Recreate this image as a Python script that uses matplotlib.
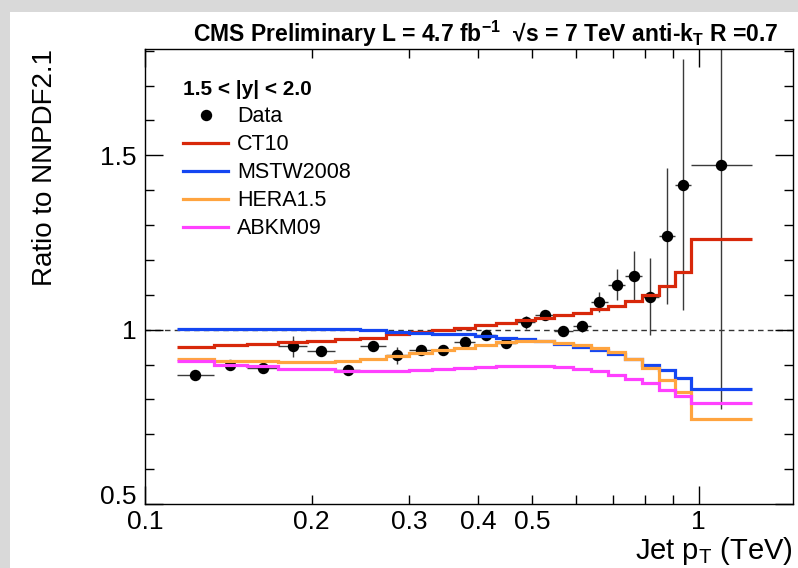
import matplotlib
matplotlib.use("Agg")
import matplotlib.pyplot as plt
import numpy as np
from matplotlib.lines import Line2D
from matplotlib.patches import Rectangle

plt.rcParams['font.family'] = ['Liberation Sans', 'DejaVu Sans']
plt.rcParams['mathtext.default'] = 'regular'

# ---- data (pT in TeV) ----
bin_edges = [0.114, 0.133, 0.153, 0.174, 0.196, 0.220, 0.245, 0.272, 0.300, 0.330,
             0.362, 0.395, 0.430, 0.468, 0.507, 0.548, 0.592, 0.638, 0.686, 0.737,
             0.790, 0.846, 0.905, 0.967, 1.248]

data_ratio = [0.869, 0.898, 0.890, 0.952, 0.940, 0.883, 0.952, 0.926, 0.941, 0.941,
              0.966, 0.984, 0.962, 1.021, 1.043, 0.997, 1.010, 1.079, 1.129, 1.155,
              1.095, 1.269, 1.416, 1.473]
data_err = [0.008, 0.008, 0.012, 0.030, 0.010, 0.012, 0.012, 0.025, 0.010, 0.010,
            0.010, 0.012, 0.012, 0.018, 0.012, 0.012, 0.016, 0.029, 0.045, 0.072,
            0.110, 0.195, 0.360, 0.700]

ct10 = [0.951, 0.955, 0.960, 0.964, 0.968, 0.974, 0.977, 0.988, 0.994, 1.000,
        1.006, 1.012, 1.019, 1.027, 1.033, 1.041, 1.048, 1.058, 1.069, 1.083,
        1.100, 1.126, 1.164, 1.260]
mstw2008 = [1.003, 1.003, 1.003, 1.003, 1.002, 1.002, 0.998, 0.993, 0.990, 0.989,
            0.987, 0.983, 0.977, 0.973, 0.967, 0.959, 0.950, 0.942, 0.929, 0.915,
            0.900, 0.884, 0.860, 0.829]
hera15 = [0.917, 0.911, 0.910, 0.907, 0.908, 0.911, 0.916, 0.924, 0.933, 0.941,
          0.948, 0.957, 0.964, 0.967, 0.967, 0.962, 0.955, 0.947, 0.935, 0.916,
          0.889, 0.856, 0.820, 0.743]
abkm09 = [0.909, 0.900, 0.895, 0.888, 0.886, 0.882, 0.881, 0.881, 0.883, 0.886,
          0.889, 0.892, 0.895, 0.895, 0.895, 0.892, 0.886, 0.881, 0.871, 0.859,
          0.846, 0.827, 0.810, 0.790]

series_names = ['CT10', 'MSTW2008', 'HERA1.5', 'ABKM09']
series_colors = ['#d8280a', '#1446f2', '#ffa43f', '#ff40ff']

xmajor = [0.1, 1.0]
xmajor_labels = ['0.1', '1']
xminor = [0.2, 0.3, 0.4, 0.5, 0.6, 0.7, 0.8, 0.9]
xminor_labels = ['0.2', '0.3', '0.4', '0.5', '', '', '', '']
ymajor = [0.5, 1.0, 1.5]
ymajor_labels = ['0.5', '1', '1.5']
yminor = [0.6, 0.7, 0.8, 0.9, 1.1, 1.2, 1.3, 1.4, 1.6, 1.7, 1.8]

# ---- figure ----
fig = plt.figure(figsize=(7.98, 5.68), dpi=100)
fig.patch.set_facecolor('#d9d9d9')
fig.add_artist(Rectangle((10 / 798, 0), 1, 1 - 12 / 568, transform=fig.transFigure,
                         facecolor='white', edgecolor='none', zorder=-10))

ax = fig.add_axes([145 / 798, 1 - 504 / 568, 648 / 798, 455 / 568])
ax.set_xscale('log')
ax.set_xlim(0.1, 1.48)
ax.set_ylim(0.5, 1.805)

edges = np.array(bin_edges)
lo, hi = edges[:-1], edges[1:]
xc = np.sqrt(lo * hi)

ax.axhline(1.0, color='#333333', lw=1.0, ls=(0, (4, 3)), zorder=1)

ax.errorbar(xc, data_ratio, xerr=[xc - lo, hi - xc], yerr=data_err, fmt='o',
            color='black', ms=7.2, ecolor='#3a3a3a', elinewidth=1.0, capsize=0,
            zorder=2, clip_on=True)

for vals, name, col in zip([ct10, mstw2008, hera15, abkm09], series_names, series_colors):
    ax.stairs(vals, edges, color=col, lw=2.3, zorder=3, baseline=None)

# ticks
ax.set_xticks(xmajor, xmajor_labels)
ax.set_xticks(xminor, xminor_labels, minor=True)
ax.set_yticks(ymajor, ymajor_labels)
ax.set_yticks(yminor, minor=True)
ax.tick_params(which='both', direction='in', top=True, right=True, width=1.0,
               labelsize=19, color='black')
ax.tick_params(which='major', length=13)
ax.tick_params(which='minor', length=6.5)
ax.tick_params(axis='x', which='both', pad=4)
ax.tick_params(axis='y', which='both', pad=6)
for s in ax.spines.values():
    s.set_linewidth(1.0)
# lowest y label sits on its tick line (as in the reference) so it clears the "0.1" label
ax.yaxis.get_major_ticks()[0].label1.set_verticalalignment('baseline')

ax.set_ylabel('Ratio to NNPDF2.1', fontsize=20, loc='top')
ax.yaxis.set_label_coords(-0.135, 1.0)
ax.set_xlabel('Jet p$_{T}$ (TeV)', fontsize=21, loc='right')
ax.xaxis.set_label_coords(1.0, -0.068)

ax.set_title('CMS Preliminary L = 4.7 fb$^{-1}$  \u221as = 7 TeV anti-k$_{T}$ R =0.7',
             loc='right', x=0.977, y=1.016, pad=0, fontsize=16.5, fontweight='bold')

handles = [Line2D([], [], marker='o', ls='none', color='black', ms=7.2)]
handles += [Line2D([], [], color=c, lw=2.3) for c in series_colors]
labels = ['Data'] + series_names
ax.legend(handles, labels, title='1.5 < |y| < 2.0', loc='upper left',
          bbox_to_anchor=(0.059, 0.932), frameon=False, borderpad=0, borderaxespad=0,
          handlelength=2.1, handletextpad=0.4, labelspacing=0.33,
          prop={'size': 15.5}, title_fontproperties={'size': 15, 'weight': 'bold'},
          alignment='left')

fig.savefig('out.png', dpi=100, facecolor=fig.get_facecolor())
